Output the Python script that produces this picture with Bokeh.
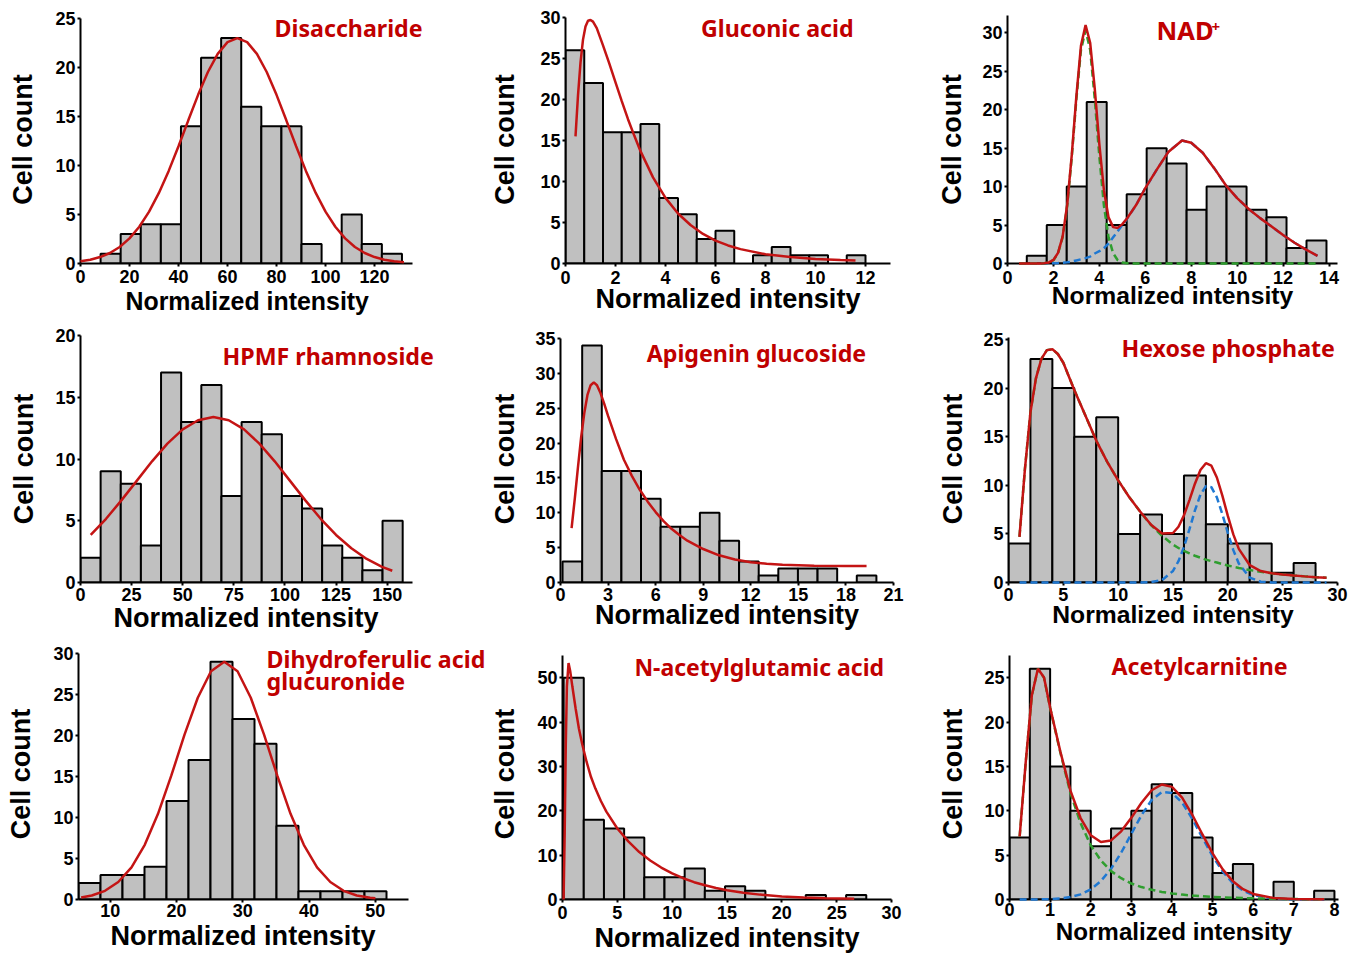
from bokeh.plotting import figure
from bokeh.models import Range1d, FixedTicker, Label, Title
from bokeh.layouts import row, column
from bokeh.embed import file_html
from bokeh.resources import INLINE

# ===================== DATA =====================
# --- Disaccharide ---
dis_bin_start = 8.2
dis_bin_width = 8.2
dis_counts = [1, 3, 4, 4, 14, 21, 23, 16, 14, 14, 2, 0, 5, 2, 1]
dis_fit_x = [0, 4, 8, 12, 16, 20, 24, 28, 32, 36, 40, 44, 48, 52, 56, 60, 64, 68, 72, 76,
             80, 84, 88, 92, 96, 100, 104, 108, 112, 116, 120, 124, 128, 132]
dis_fit_y = [0.22, 0.39, 0.66, 1.07, 1.69, 2.56, 3.75, 5.29, 7.20, 9.45, 11.97, 14.61, 17.21,
             19.54, 21.39, 22.59, 23.0, 22.59, 21.39, 19.54, 17.21, 14.61, 11.97, 9.45, 7.20,
             5.29, 3.75, 2.56, 1.69, 1.07, 0.66, 0.39, 0.22, 0.12]
dis_xticks = [0, 20, 40, 60, 80, 100, 120]
dis_yticks = [0, 5, 10, 15, 20, 25]

# --- Gluconic acid ---
glu_bin_start = 0.0
glu_bin_width = 0.75
glu_counts = [26, 22, 16, 16, 17, 8, 6, 3, 4, 0, 1, 2, 1, 1, 0, 1]
glu_fit_x = [0.4, 0.5, 0.6, 0.7, 0.8, 0.9, 1.0, 1.1, 1.25, 1.5, 1.75, 2.0, 2.25, 2.5, 2.75,
             3.0, 3.5, 4.0, 4.5, 5.0, 5.5, 6.0, 6.5, 7.0, 8.0, 9.0, 10.0, 11.0, 11.6]
glu_fit_y = [15.5, 20.5, 24.5, 27.3, 28.9, 29.6, 29.7, 29.5, 28.7, 26.6, 24.4, 22.1, 19.8,
             17.6, 15.6, 13.7, 10.5, 8.0, 6.1, 4.7, 3.6, 2.8, 2.2, 1.75, 1.12, 0.78, 0.56,
             0.43, 0.37]
glu_xticks = [0, 2, 4, 6, 8, 10, 12]
glu_yticks = [0, 5, 10, 15, 20, 25, 30]

# --- NAD+ ---
nad_bin_start = 0.84
nad_bin_width = 0.87
nad_counts = [1, 5, 10, 21, 5, 9, 15, 13, 7, 10, 10, 7, 6, 2, 3]
nad_fit_x = [0.5, 1.0, 1.4, 1.6, 1.8, 2.0, 2.2, 2.4, 2.6, 2.8, 3.0, 3.2, 3.4, 3.6, 3.8,
             4.0, 4.2, 4.4, 4.6, 4.8, 5.0, 5.2, 5.6, 6.0, 6.5, 7.0, 7.6, 8.0, 8.5, 9.0,
             9.5, 10.0, 10.5, 11.0, 11.5, 12.0, 12.5, 13.0, 13.5]
nad_peak1_y = [0, 0, 0, 0.03, 0.12, 0.43, 1.33, 3.4, 7.5, 13.9, 21.4, 27.8, 30.3, 27.8, 21.4,
               13.9, 7.5, 3.4, 1.33, 0.43, 0.12, 0.03, 0, 0, 0, 0, 0, 0, 0, 0,
               0, 0, 0, 0, 0, 0, 0, 0, 0]
nad_peak2_y = [0, 0, 0, 0.01, 0.02, 0.03, 0.06, 0.1, 0.15, 0.25, 0.4, 0.55, 0.7, 0.9, 1.3,
               1.6, 2.0, 2.6, 3.4, 4.2, 5.0, 5.8, 7.6, 9.8, 12.2, 14.5, 16.0, 15.7, 14.4, 12.4,
               10.2, 8.5, 7.1, 5.9, 4.8, 3.7, 2.7, 1.8, 1.0]
nad_fit_y = [0, 0, 0, 0.04, 0.14, 0.46, 1.39, 3.5, 7.65, 14.15, 21.8, 28.35, 31.0, 28.7, 22.7,
             15.5, 9.5, 6.0, 4.73, 4.63, 5.12, 5.83, 7.6, 9.8, 12.2, 14.5, 16.0, 15.7, 14.4, 12.4,
             10.2, 8.5, 7.1, 5.9, 4.8, 3.7, 2.7, 1.8, 1.0]
nad_xticks = [0, 2, 4, 6, 8, 10, 12, 14]
nad_yticks = [0, 5, 10, 15, 20, 25, 30]

# --- HPMF rhamnoside ---
hpm_bin_start = 0.0
hpm_bin_width = 9.85
hpm_counts = [2, 9, 8, 3, 17, 13, 16, 7, 13, 12, 7, 6, 3, 2, 1, 5]
hpm_fit_x = [5, 12.5, 20, 27.5, 35, 42.5, 50, 57.5, 65, 72.5, 80, 87.5, 95, 102.5, 110,
             117.5, 125, 132.5, 140, 147.5, 152.5]
hpm_fit_y = [3.85, 5.16, 6.65, 8.23, 9.81, 11.24, 12.40, 13.14, 13.4, 13.14, 12.40, 11.24,
             9.81, 8.23, 6.65, 5.16, 3.85, 2.77, 1.91, 1.27, 0.95]
hpm_xticks = [0, 25, 50, 75, 100, 125, 150]
hpm_yticks = [0, 5, 10, 15, 20]

# --- Apigenin glucoside ---
api_bin_start = 0.13
api_bin_width = 1.237
api_counts = [3, 34, 16, 16, 12, 8, 8, 10, 6, 3, 1, 2, 2, 2, 0, 1]
api_fit_x = [0.7, 0.9, 1.1, 1.3, 1.5, 1.7, 1.9, 2.1, 2.3, 2.5, 2.75, 3.0, 3.5, 4.0, 4.5,
             5.0, 5.5, 6.0, 6.5, 7.0, 7.5, 8.0, 9.0, 10.0, 11.0, 12.0, 13.0, 14.0, 16.0,
             18.0, 19.3]
api_fit_y = [7.8, 12.0, 16.5, 20.8, 24.3, 26.9, 28.3, 28.7, 28.3, 27.3, 25.7, 23.9, 20.6,
             17.6, 15.3, 13.3, 11.6, 10.1, 8.8, 7.7, 6.8, 6.0, 4.8, 3.9, 3.3, 2.9, 2.7,
             2.55, 2.4, 2.35, 2.35]
api_xticks = [0, 3, 6, 9, 12, 15, 18, 21]
api_yticks = [0, 5, 10, 15, 20, 25, 30, 35]

# --- Hexose phosphate ---
hex_bin_start = 0.0
hex_bin_width = 2.0
hex_counts = [4, 23, 20, 15, 17, 5, 7, 5, 11, 6, 4, 4, 1, 2]
hex_fit_x = [1, 1.5, 2, 2.5, 3, 3.5, 4, 4.5, 5, 6, 7, 8, 9, 10, 11, 12, 13, 14, 15, 15.5,
             16, 16.5, 17, 17.5, 18, 18.5, 19, 19.5, 20, 20.5, 21, 22, 23, 24, 25, 26, 27,
             28, 29]
hex_peak1_y = [4.7, 11.7, 17.5, 21.0, 23.0, 23.9, 24.0, 23.5, 22.6, 19.8, 17.2, 14.6, 12.4,
               10.5, 8.8, 7.3, 5.9, 4.8, 3.9, 3.55, 3.25, 3.0, 2.75, 2.55, 2.35, 2.2, 2.05,
               1.9, 1.75, 1.62, 1.5, 1.28, 1.1, 0.95, 0.82, 0.72, 0.63, 0.55, 0.48]
hex_peak2_y = [0, 0, 0, 0, 0, 0, 0, 0, 0, 0, 0, 0, 0, 0, 0, 0, 0.04, 0.25, 1.19, 2.19,
               3.65, 5.48, 7.41, 9.03, 9.92, 9.81, 8.75, 7.03, 5.10, 3.33, 1.96, 0.50, 0.08,
               0.01, 0, 0, 0, 0, 0]
hex_fit_y = [4.7, 11.7, 17.5, 21.0, 23.0, 23.9, 24.0, 23.5, 22.6, 19.8, 17.2, 14.6, 12.4,
             10.5, 8.8, 7.3, 5.94, 5.05, 5.09, 5.74, 6.9, 8.48, 10.16, 11.58, 12.27, 12.01,
             10.8, 8.93, 6.85, 4.95, 3.46, 1.78, 1.18, 0.96, 0.82, 0.72, 0.63, 0.55, 0.48]
hex_xticks = [0, 5, 10, 15, 20, 25, 30]
hex_yticks = [0, 5, 10, 15, 20, 25]

# --- Dihydroferulic acid glucuronide ---
dhf_bin_start = 5.2
dhf_bin_width = 3.32
dhf_counts = [2, 3, 3, 4, 12, 17, 29, 22, 19, 9, 1, 1, 1, 1]
dhf_fit_x = [5.6, 7.2, 9.2, 11.2, 13.2, 15.2, 17.2, 19.2, 21.2, 23.2, 25.2, 27.2, 29.2,
             31.2, 33.2, 35.2, 37.2, 39.2, 41.2, 43.2, 45.2, 47.2, 49.2, 50.0]
dhf_fit_y = [0.25, 0.49, 1.06, 2.13, 3.92, 6.67, 10.45, 15.1, 20.1, 24.6, 27.84, 29.0,
             27.84, 24.6, 20.1, 15.1, 10.45, 6.67, 3.92, 2.13, 1.06, 0.49, 0.21, 0.15]
dhf_xticks = [10, 20, 30, 40, 50]
dhf_yticks = [0, 5, 10, 15, 20, 25, 30]

# --- N-acetylglutamic acid ---
nag_bin_start = 0.1
nag_bin_width = 1.84
nag_counts = [50, 18, 16, 14, 5, 5, 7, 2, 3, 2, 0, 0, 1, 0, 1]
nag_fit_x = [0.1, 0.2, 0.3, 0.4, 0.55, 0.7, 0.9, 1.2, 1.5, 1.8, 2.2, 2.6, 3.0, 3.5, 4.0,
             5.0, 6.0, 7.0, 8.0, 9.0, 10.0, 11.0, 12.0, 13.0, 14.0, 15.0, 16.5, 18.0, 20.0,
             22.0, 24.0, 26.6]
nag_fit_y = [0, 15, 35, 48, 53.3, 51.5, 48, 43, 38.5, 35, 31, 27.6, 25.0, 22.2, 19.8,
             16.0, 13.1, 10.7, 8.8, 7.2, 5.9, 4.8, 3.9, 3.2, 2.6, 2.1, 1.5, 1.1, 0.7,
             0.45, 0.3, 0.15]
nag_xticks = [0, 5, 10, 15, 20, 25, 30]
nag_yticks = [0, 10, 20, 30, 40, 50]

# --- Acetylcarnitine ---
acc_bin_start = 0.0
acc_bin_width = 0.5
acc_counts = [7, 26, 15, 10, 6, 8, 10, 13, 12, 7, 3, 4, 0, 2, 0, 1]
acc_fit_x = [0.25, 0.4, 0.55, 0.7, 0.85, 1.0, 1.25, 1.5, 1.75, 2.0, 2.25, 2.5, 2.75, 3.0,
             3.25, 3.5, 3.75, 4.0, 4.25, 4.5, 4.75, 5.0, 5.25, 5.5, 5.75, 6.0, 6.5, 7.0,
             7.5, 7.75]
acc_peak1_y = [7.1, 15.5, 23.0, 26.0, 25.0, 21.6, 16.6, 12.0, 8.6, 6.1, 4.4, 3.2, 2.4, 1.8,
               1.4, 1.1, 0.85, 0.68, 0.55, 0.45, 0.37, 0.3, 0.25, 0.2, 0.16, 0.13, 0.08,
               0.05, 0.03, 0.02]
acc_peak2_y = [0.0, 0.003, 0.007, 0.013, 0.024, 0.044, 0.11, 0.27, 0.58, 1.14, 2.08, 3.46,
               5.28, 7.40, 9.51, 11.21, 12.11, 12.01, 10.92, 9.10, 6.96, 4.89, 3.14, 1.85,
               1.00, 0.50, 0.094, 0.013, 0.001, 0.0]
acc_fit_y = [7.1, 15.5, 23.01, 26.01, 25.02, 21.64, 16.71, 12.27, 9.18, 7.24, 6.48, 6.66,
             7.68, 9.2, 10.91, 12.31, 12.96, 12.69, 11.47, 9.55, 7.33, 5.19, 3.39, 2.05,
             1.16, 0.63, 0.17, 0.06, 0.03, 0.02]
acc_xticks = [0, 1, 2, 3, 4, 5, 6, 7, 8]
acc_yticks = [0, 5, 10, 15, 20, 25]

X_LABEL = "Normalized intensity"
Y_LABEL = "Cell count"

# ===================== STYLE / LAYOUT =====================
BAR_FILL = "#c0c0c0"
FIT_RED = "#c41414"
GREEN = "#2f9e2f"
BLUE = "#1f78d2"
TITLE_RED = "#c00000"
AX_FONT = "Liberation Sans"
TITLE_FONT = "Noto Sans"
TFS = 23.2
MID = 0.388   # distance (in em) from the text box centre down to the baseline

COLS = [(0, 487), (487, 918), (918, 1357)]
# (box top, box bottom, shared frame top, shared frame bottom) -- a row aligns its frames
ROWS = [(0, 322, 15, 263), (322, 637, 335, 582), (637, 956, 648, 899)]

# L,R: x-axis extents in page px; RE: frame right (room for red names); T: pixel of y max
# xt_mode: None -> axis label; (offset, standoff) -> x label drawn as a left-aligned Title
panels = [
    dict(col=0, row=0, L=80, R=412, T=18, RE=430, xr=(0, 135.5), yr=(0, 25),
         start=dis_bin_start, width=dis_bin_width, counts=dis_counts,
         fx=dis_fit_x, fy=dis_fit_y, p1=None, p2=None,
         xt=dis_xticks, yt=dis_yticks, xls=3, xlab_so=0, xlab_fs=24.9, ylab_so=14,
         xt_mode=(45, 2), titles=[("Disaccharide", 274, 37, TFS)]),
    dict(col=1, row=0, L=559, R=890, T=17, RE=890, xr=(0, 13.0), yr=(0, 30),
         start=glu_bin_start, width=glu_bin_width, counts=glu_counts,
         fx=glu_fit_x, fy=glu_fit_y, p1=None, p2=None,
         xt=glu_xticks, yt=glu_yticks, xls=4, xlab_so=-4, xlab_fs=27.1, ylab_so=17,
         xt_mode=None, titles=[("Gluconic acid", 697, 37, TFS)]),
    dict(col=2, row=0, L=1007, R=1337, T=15, RE=1337, xr=(0, 14.37), yr=(0, 32.25),
         start=nad_bin_start, width=nad_bin_width, counts=nad_counts,
         fx=nad_fit_x, fy=nad_fit_y, p1=nad_peak1_y, p2=nad_peak2_y,
         xt=nad_xticks, yt=nad_yticks, xls=4, xlab_so=-5, xlab_fs=24.7, ylab_so=12,
         xt_mode=None, titles=[("NAD", 1156, 39, 25.5), ("+", 1211, 32, 15)]),
    dict(col=0, row=1, L=80, R=412, T=335, RE=442, xr=(0, 162.4), yr=(0, 20),
         start=hpm_bin_start, width=hpm_bin_width, counts=hpm_counts,
         fx=hpm_fit_x, fy=hpm_fit_y, p1=None, p2=None,
         xt=hpm_xticks, yt=hpm_yticks, xls=2, xlab_so=-2, xlab_fs=27.1, ylab_so=13,
         xt_mode=(33, -3), titles=[("HPMF rhamnoside", 222, 365, TFS)]),
    dict(col=1, row=1, L=557, R=893, T=338, RE=893, xr=(0, 21), yr=(0, 35),
         start=api_bin_start, width=api_bin_width, counts=api_counts,
         fx=api_fit_x, fy=api_fit_y, p1=None, p2=None,
         xt=api_xticks, yt=api_yticks, xls=2, xlab_so=-4, xlab_fs=27.0, ylab_so=12,
         xt_mode=None, titles=[("Apigenin glucoside", 644, 362, TFS)]),
    dict(col=2, row=1, L=1008, R=1337, T=337, RE=1337, xr=(0, 30), yr=(0, 25.2),
         start=hex_bin_start, width=hex_bin_width, counts=hex_counts,
         fx=hex_fit_x, fy=hex_fit_y, p1=hex_peak1_y, p2=hex_peak2_y,
         xt=hex_xticks, yt=hex_yticks, xls=2, xlab_so=-3, xlab_fs=24.7, ylab_so=12,
         xt_mode=None, titles=[("Hexose phosphate", 1121, 357, TFS)]),
    dict(col=0, row=2, L=78, R=408, T=653, RE=487, xr=(5.2, 55.0), yr=(0, 30),
         start=dhf_bin_start, width=dhf_bin_width, counts=dhf_counts,
         fx=dhf_fit_x, fy=dhf_fit_y, p1=None, p2=None,
         xt=dhf_xticks, yt=dhf_yticks, xls=1, xlab_so=2, xlab_fs=27.1, ylab_so=14,
         xt_mode=(32, 0),
         titles=[("Dihydroferulic acid", 266, 668, TFS), ("glucuronide", 266, 690, TFS)]),
    dict(col=1, row=2, L=557, R=891, T=655, RE=891, xr=(0, 30), yr=(0, 55),
         start=nag_bin_start, width=nag_bin_width, counts=nag_counts,
         fx=nag_fit_x, fy=nag_fit_y, p1=None, p2=None,
         xt=nag_xticks, yt=nag_yticks, xls=3, xlab_so=0, xlab_fs=27.1, ylab_so=14,
         xt_mode=None, titles=[("N-acetylglutamic acid", 630, 675, 23.0)]),
    dict(col=2, row=2, L=1009, R=1338, T=655, RE=1338, xr=(0, 8.1), yr=(0, 27.5),
         start=acc_bin_start, width=acc_bin_width, counts=acc_counts,
         fx=acc_fit_x, fy=acc_fit_y, p1=acc_peak1_y, p2=acc_peak2_y,
         xt=acc_xticks, yt=acc_yticks, xls=0, xlab_so=-1, xlab_fs=24.2, ylab_so=13,
         xt_mode=None, titles=[("Acetylcarnitine", 1111, 675, TFS)]),
]


def make_panel(g):
    cx0, cx1 = COLS[g["col"]]
    ry0, ry1, ftop, fbot = ROWS[g["row"]]
    x0, x1 = g["xr"]
    y0, y1 = g["yr"]
    sx = (g["R"] - g["L"]) / (x1 - x0)
    sy = (fbot - g["T"]) / (y1 - y0)
    fx1 = x1 + (g["RE"] - g["R"]) / sx
    fy1 = y1 + (g["T"] - ftop) / sy
    p = figure(width=cx1 - cx0, height=ry1 - ry0,
               x_range=Range1d(x0, fx1), y_range=Range1d(y0, fy1),
               output_backend="svg", toolbar_location=None, title=None,
               min_border_left=g["L"] - cx0, min_border_right=cx1 - g["RE"],
               min_border_top=ftop - ry0, min_border_bottom=ry1 - fbot)
    p.outline_line_color = None
    p.xgrid.visible = False
    p.ygrid.visible = False
    p.background_fill_color = "white"
    p.border_fill_color = "white"

    # histogram bars
    n = len(g["counts"])
    edges = [g["start"] + i * g["width"] for i in range(n + 1)]
    lefts = [edges[i] for i in range(n) if g["counts"][i] > 0]
    rights = [edges[i + 1] for i in range(n) if g["counts"][i] > 0]
    tops = [c for c in g["counts"] if c > 0]
    p.quad(left=lefts, right=rights, bottom=0, top=tops,
           fill_color=BAR_FILL, line_color="black", line_width=2)

    # component curves (drawn above the axis line, like the original)
    if g["p2"] is not None:
        p.line(g["fx"], g["p2"], line_color=BLUE, line_width=2.5, line_dash="7 4",
               level="overlay")
    if g["p1"] is not None:
        p.line(g["fx"], g["p1"], line_color=GREEN, line_width=2.5, line_dash="7 4",
               level="overlay")
    # fitted curve
    p.line(g["fx"], g["fy"], line_color=FIT_RED, line_width=2.5, level="overlay")

    # axes
    p.xaxis.ticker = FixedTicker(ticks=g["xt"])
    p.yaxis.ticker = FixedTicker(ticks=g["yt"])
    p.xaxis.bounds = (x0, x1)
    p.yaxis.bounds = (y0, y1)
    for ax in (p.xaxis[0], p.yaxis[0]):
        ax.axis_line_width = 2
        ax.axis_line_color = "black"
        ax.major_tick_line_width = 2
        ax.major_tick_line_color = "black"
        ax.major_tick_in = 0
        ax.major_tick_out = 3
        ax.minor_tick_line_color = None
        ax.major_label_text_font = AX_FONT
        ax.major_label_text_font_style = "bold"
        ax.major_label_text_font_size = "18px"
        ax.major_label_text_color = "black"
        ax.axis_label_text_font = AX_FONT
        ax.axis_label_text_font_style = "bold"
        ax.axis_label_text_color = "black"
    p.xaxis.major_label_standoff = g["xls"]
    if g["xt_mode"] is None:
        p.xaxis.axis_label = X_LABEL
        p.xaxis.axis_label_standoff = g["xlab_so"]
        p.xaxis.axis_label_text_font_size = "%spx" % g["xlab_fs"]
    else:
        off, so = g["xt_mode"]
        p.add_layout(Title(text=X_LABEL, align="left", offset=off, standoff=so,
                           vertical_align="top", text_font=AX_FONT,
                           text_font_style="bold", text_color="black",
                           text_font_size="%spx" % g["xlab_fs"]), "below")
    p.yaxis.axis_label = Y_LABEL
    p.yaxis.major_label_standoff = 2
    p.yaxis.axis_label_standoff = g["ylab_so"]
    p.yaxis.axis_label_text_font_size = "27px"

    # red names: given by left edge and baseline in page px, placed by box centre
    for text, px, py, fs in g["titles"]:
        dx = x0 + (px - g["L"]) / sx
        dy = y0 + (fbot - (py - MID * fs)) / sy
        p.add_layout(Label(x=dx, y=dy, text=text, text_font=TITLE_FONT,
                           text_font_style="bold", text_font_size="%spx" % fs,
                           text_color=TITLE_RED, text_align="left",
                           text_baseline="middle"))
    return p


figs = [make_panel(g) for g in panels]
layout = column(row(*figs[0:3]), row(*figs[3:6]), row(*figs[6:9]))

open("out.html", "w").write(file_html(layout, INLINE))
